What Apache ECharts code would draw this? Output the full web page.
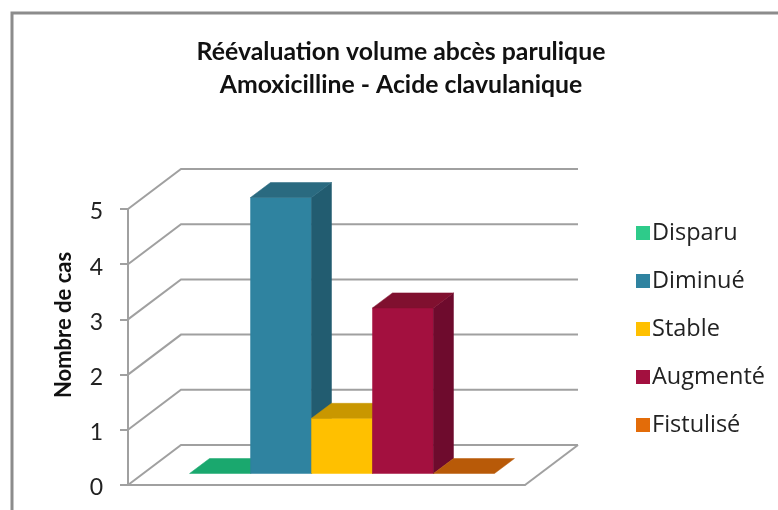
<!DOCTYPE html>
<html>
<head>
<meta charset="utf-8">
<title>Réévaluation volume abcès parulique</title>
<style>
  html, body { margin: 0; padding: 0; background: #fff; }
  #chart { width: 778px; height: 510px; }
</style>
</head>
<body>
<div id="chart"></div>
<script src="https://cdn.jsdelivr.net/npm/echarts@6/dist/echarts.min.js"></script>
<script>
// data
const categories = ['Amoxicilline - Acide clavulanique'];
const seriesNames = ['Disparu', 'Diminué', 'Stable', 'Augmenté', 'Fistulisé'];
const seriesValues = [0, 5, 1, 3, 0];
const yTicks = [0, 1, 2, 3, 4, 5];

// front / top / side colour of each block
const frontColors = ['#2ecb8a', '#2f83a0', '#ffc000', '#a3103f', '#e36c09'];
const topColors = ['#1aa86e', '#2a6a80', '#c99700', '#80102f', '#b85a08'];
const sideColors = ['#1d8f60', '#225c70', '#b38600', '#6e0b2d', '#a04e06'];

// fake 3d: how far back the walls and the blocks sit, in pixels
const wallDepth = [53, -40];
const barInset = [15.5, -11.5];
const barDepth = [20, -15];
const gridColor = '#a0a0a0';
const barShare = 0.768;

function poly(points, fill) {
  return { type: 'polygon', shape: { points: points }, style: { fill: fill, stroke: fill, lineWidth: 0.5 } };
}

function renderWall(params, api) {
  const v = api.value(0);
  const start = api.coord([0, v]);
  const band = api.size([1, 0])[0];
  const p0 = [start[0] - band / 2, start[1]];
  const p1 = [p0[0] + wallDepth[0], p0[1] + wallDepth[1]];
  const p2 = [p1[0] + band, p1[1]];
  const line = { type: 'polyline', shape: { points: [p0, p1, p2] }, style: { stroke: gridColor, lineWidth: 2, fill: null } };
  if (v !== 0) return line;
  // floor: the right edge closes the plate
  return { type: 'group', children: [line, {
    type: 'line',
    shape: { x1: p0[0] + band, y1: p0[1], x2: p2[0], y2: p2[1] },
    style: { stroke: gridColor, lineWidth: 2 }
  }] };
}

function renderBlock(idx) {
  return function (params, api) {
    const top = api.coord([0, api.value(1)]);
    const base = api.coord([0, 0]);
    const band = api.size([1, 0])[0];
    const w = band * barShare / seriesNames.length;
    const x0 = top[0] + (idx - seriesNames.length / 2) * w + barInset[0];
    const x1 = x0 + w;
    const yTop = top[1] + barInset[1];
    const yBase = base[1] + barInset[1];
    const dx = barDepth[0], dy = barDepth[1];
    const children = [];
    if (yBase > yTop) {
      children.push(poly([[x0, yTop], [x1, yTop], [x1, yBase], [x0, yBase]], frontColors[idx]));
      children.push(poly([[x1, yTop], [x1 + dx, yTop + dy], [x1 + dx, yBase + dy], [x1, yBase]], sideColors[idx]));
    }
    children.push(poly([[x0, yTop], [x1, yTop], [x1 + dx, yTop + dy], [x0 + dx, yTop + dy]], topColors[idx]));
    return { type: 'group', children: children };
  };
}

const series = [{
  type: 'custom',
  name: 'walls',
  silent: true,
  z: 1,
  renderItem: renderWall,
  encode: { y: 0 },
  data: yTicks.map(function (t) { return [t]; })
}];
seriesNames.forEach(function (name, i) {
  series.push({
    type: 'custom',
    name: name,
    z: 2 + i,
    renderItem: renderBlock(i),
    itemStyle: { color: frontColors[i] },
    encode: { x: 0, y: 1 },
    data: [[0, seriesValues[i]]]
  });
});

const chart = echarts.init(document.getElementById('chart'));
chart.setOption({
  animation: false,
  backgroundColor: '#fff',
  textStyle: { fontFamily: 'Lato' },
  title: {
    text: 'Réévaluation volume abcès parulique\nAmoxicilline - Acide clavulanique',
    left: 396,
    top: 31,
    textAlign: 'center',
    textStyle: { fontFamily: 'Lato', fontSize: 24.8, fontWeight: 'bold', color: '#111', lineHeight: 33 }
  },
  legend: {
    data: seriesNames,
    orient: 'vertical',
    left: 631,
    top: 216,
    icon: 'rect',
    itemWidth: 14,
    itemHeight: 14,
    itemGap: 24,
    selectedMode: false,
    textStyle: { fontFamily: 'Open Sans', fontSize: 23.5, lineHeight: 22, color: '#222', padding: [0, 0, 0, -3] }
  },
  grid: { left: 128, right: 253, top: 209, bottom: 25 },
  xAxis: {
    type: 'category',
    data: categories,
    axisTick: { show: false },
    axisLabel: { show: false },
    axisLine: { lineStyle: { color: gridColor, width: 2 } }
  },
  yAxis: {
    type: 'value',
    min: 0,
    max: 5,
    interval: 1,
    name: 'Nombre de cas',
    nameLocation: 'middle',
    nameGap: 53,
    nameTextStyle: { fontFamily: 'Lato', fontSize: 22, fontWeight: 'bold', color: '#111', padding: [0, 0, 0, 44] },
    splitLine: { show: false },
    axisLine: { show: true, lineStyle: { color: gridColor, width: 2 } },
    axisTick: { show: true, length: 8, lineStyle: { color: gridColor, width: 2 } },
    axisLabel: {
      margin: 25,
      formatter: '{t|{value}}',
      // the digits sit a little low next to their ticks
      rich: { t: { fontFamily: 'Lato', fontSize: 23, color: '#222', padding: [6, 0, 0, 0] } }
    }
  },
  graphic: [{
    type: 'rect',
    silent: true,
    shape: { x: 12, y: 13, width: 800, height: 530 },
    style: { fill: null, stroke: '#8c8c8c', lineWidth: 3 }
  }],
  series: series
});
</script>
</body>
</html>
